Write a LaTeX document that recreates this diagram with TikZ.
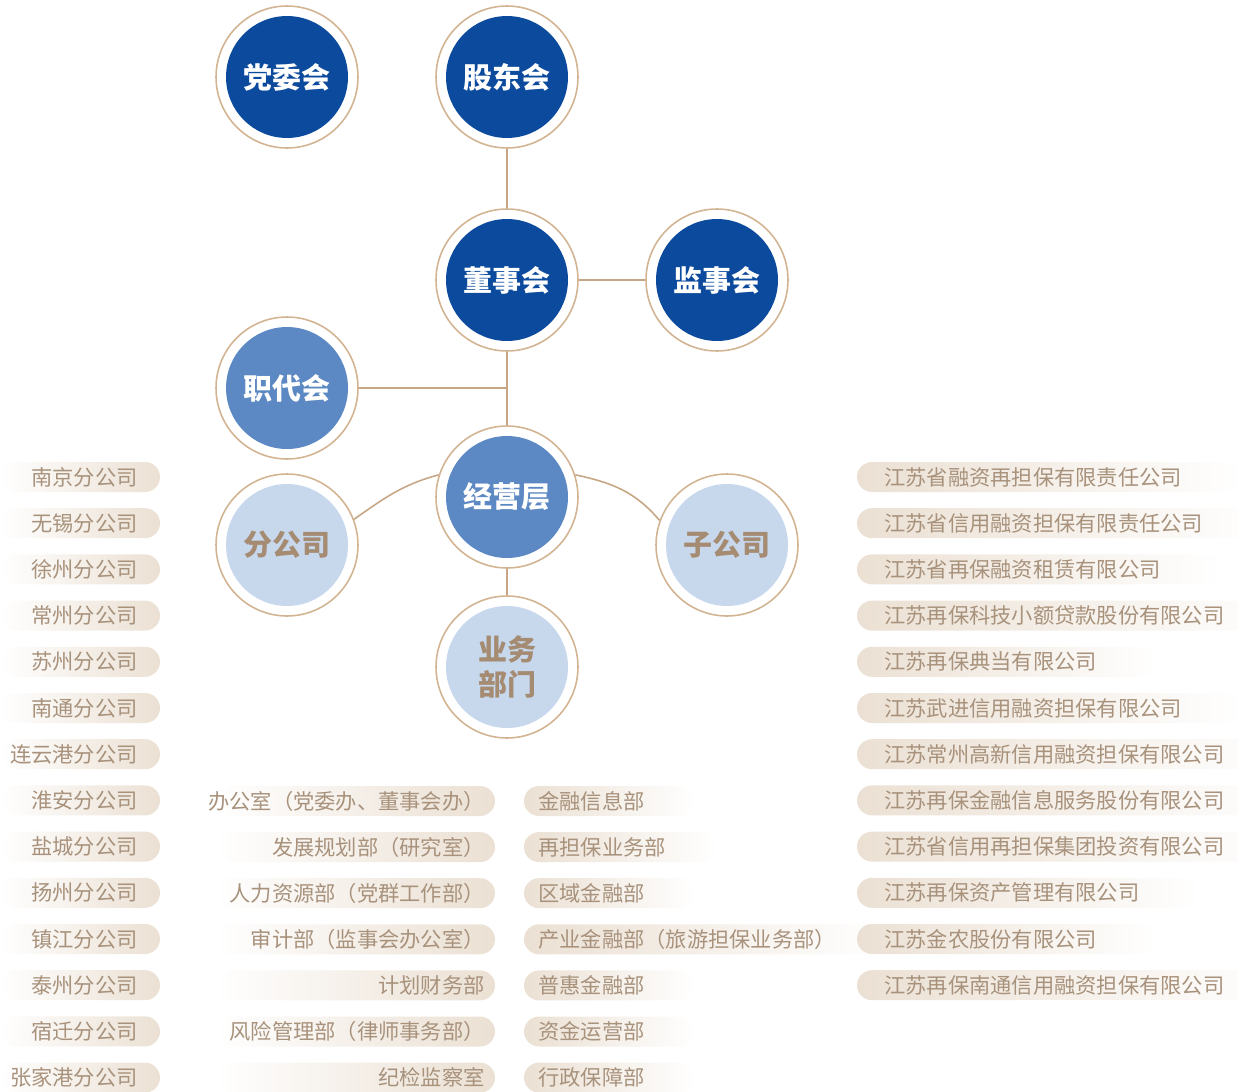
\documentclass[tikz,border=0pt]{standalone}
\usepackage{fontspec}
\setmainfont{Noto Sans CJK SC}
\usetikzlibrary{backgrounds}

\definecolor{deepblue}{HTML}{0B4A9C}
\definecolor{midblue}{HTML}{5C88C3}
\definecolor{paleblue}{HTML}{C7D7EC}
\definecolor{ringtan}{HTML}{D2B493}
\definecolor{linetan}{HTML}{C6A685}
\definecolor{tagtext}{HTML}{A8927C}
\definecolor{tagfill}{HTML}{EBE0D3}
\definecolor{unittext}{HTML}{A48B72}

\begin{document}
\begin{tikzpicture}[x=0.02cm, y=0.02cm,
    org/.style={circle, draw=ringtan, line width=0.9pt, fill=white, minimum size=2.84cm, inner sep=0pt, align=center,
        font=\fontsize{16.5}{19.5}\selectfont\bfseries,
        path picture={\fill[#1] (path picture bounding box.center) circle (1.22cm);}},
    board/.style={org=deepblue, text=white},
    mgmt/.style={org=midblue, text=white},
    unit/.style={org=paleblue, text=unittext},
    tag/.style={text=tagtext, inner sep=0pt, font=\fontsize{12.1}{14}\selectfont},
    link/.style={draw=linetan, line width=0.9pt}]

    \useasboundingbox (0,0) rectangle (1238,-1092);

    % Governance circles
    \node[board] (dwh) at (287,-77) {党委会};
    \node[board] (gdh) at (507,-77) {股东会};
    \node[board] (dsh) at (507,-280) {董事会};
    \node[board] (jsh) at (717,-280) {监事会};
    \node[mgmt] (zdh) at (287,-388) {职代会};
    \node[mgmt] (jyc) at (507,-497) {经营层};
    \node[unit] (fgs) at (287,-545) {分公司};
    \node[unit] (zgs) at (727,-545) {子公司};
    \node[unit] (ywb) at (507,-667) {业务\\部门};

    % Connections
    \coordinate (mid) at (507,-388);
    \draw[link] (gdh) -- (dsh);
    \draw[link] (dsh) -- (jsh);
    \draw[link] (dsh) -- (jyc);
    \draw[link] (zdh) -- (mid);
    \draw[link] (jyc) -- (ywb);
    \draw[link] (fgs.21) to[out=35, in=195] (jyc.162);
    \draw[link] (jyc.18) to[out=-12, in=130] (zgs.160);

    % Branch offices (left column)
    \foreach \name [count=\i] in {南京分公司, 无锡分公司, 徐州分公司, 常州分公司, 苏州分公司, 南通分公司, 连云港分公司,
        淮安分公司, 盐城分公司, 扬州分公司, 镇江分公司, 泰州分公司, 宿迁分公司, 张家港分公司} {
        \pgfmathsetmacro\y{-477-(\i-1)*46.2}
        \shade[left color=white, right color=tagfill, rounded corners=0.3cm] (0,\y+15) rectangle (160,\y-15);
        \node[tag, anchor=east] (fg\i) at (138,\y) {\name};
    }

    % Functional departments
    \foreach \name [count=\i] in {办公室（党委办、董事会办）, 发展规划部（研究室）, 人力资源部（党群工作部）,
        审计部（监事会办公室）, 计划财务部, 风险管理部（律师事务部）, 纪检监察室} {
        \pgfmathsetmacro\y{-801-(\i-1)*46.1}
        \shade[left color=white, right color=tagfill, rounded corners=0.3cm] (215,\y+15) rectangle (495,\y-15);
        \node[tag, anchor=east] (bm\i) at (485,\y) {\name};
    }

    % Business departments
    \foreach \name [count=\i] in {金融信息部, 再担保业务部, 区域金融部, 产业金融部（旅游担保业务部）,
        普惠金融部, 资金运营部, 行政保障部} {
        \pgfmathsetmacro\y{-801-(\i-1)*46.1}
        \node[tag, anchor=west] (yw\i) at (538,\y) {\name};
        \begin{scope}[on background layer]
            \shade[left color=tagfill, right color=white, rounded corners=0.3cm]
                (524,\y+15) rectangle ([xshift=1cm, yshift=-0.3cm]yw\i.east);
        \end{scope}
    }

    % Subsidiaries (right column)
    \foreach \name [count=\i] in {江苏省融资再担保有限责任公司, 江苏省信用融资担保有限责任公司, 江苏省再保融资租赁有限公司,
        江苏再保科技小额贷款股份有限公司, 江苏再保典当有限公司, 江苏武进信用融资担保有限公司,
        江苏常州高新信用融资担保有限公司, 江苏再保金融信息服务股份有限公司, 江苏省信用再担保集团投资有限公司,
        江苏再保资产管理有限公司, 江苏金农股份有限公司, 江苏再保南通信用融资担保有限公司} {
        \pgfmathsetmacro\y{-477-(\i-1)*46.2}
        \node[tag, anchor=west] (zg\i) at (884,\y) {\name};
        \begin{scope}[on background layer]
            \shade[left color=tagfill, right color=white, rounded corners=0.3cm]
                (857,\y+15) rectangle ([xshift=1.2cm, yshift=-0.3cm]zg\i.east);
        \end{scope}
    }
\end{tikzpicture}
\end{document}
